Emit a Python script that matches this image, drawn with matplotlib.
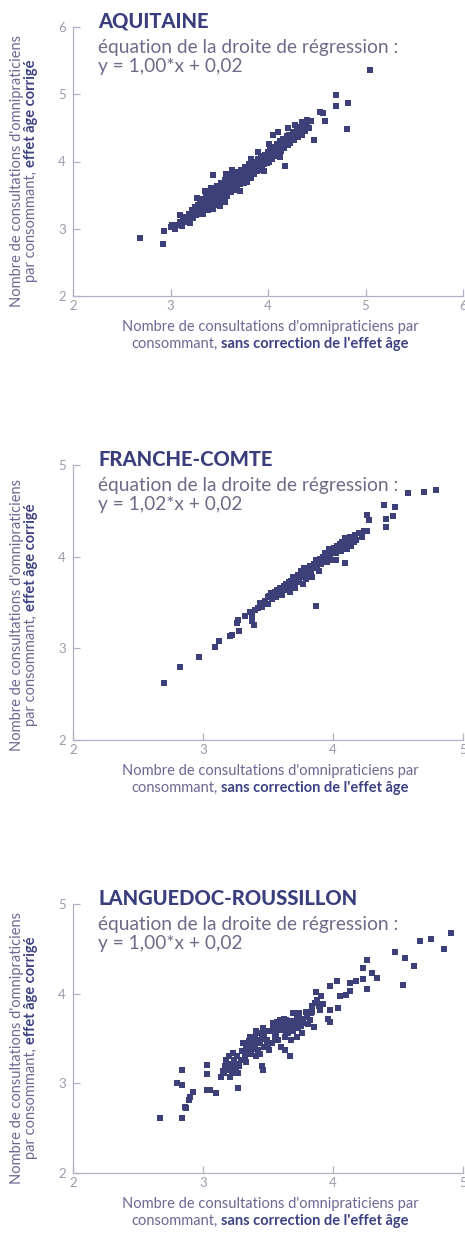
import matplotlib
matplotlib.use("Agg")
import matplotlib.pyplot as plt
import numpy as np

# ---- data: (uncorrected, age-corrected) consultations per consumer, one point per canton
aquitaine_pts = [
    (3.00, 3.02), (3.02, 3.06), (3.05, 3.00), (3.08, 3.05), (3.10, 3.10), (3.12, 3.04),
    (3.13, 3.12), (3.15, 3.18), (3.16, 3.10), (3.18, 3.15), (3.19, 3.22), (3.20, 3.08),
    (3.21, 3.20), (3.22, 3.28), (3.23, 3.16), (3.24, 3.24), (3.25, 3.32), (3.26, 3.20),
    (3.27, 3.27), (3.28, 3.36), (3.28, 3.22), (3.29, 3.30), (3.30, 3.40), (3.30, 3.25),
    (3.31, 3.34), (3.32, 3.28), (3.33, 3.44), (3.33, 3.22), (3.34, 3.36), (3.35, 3.30),
    (3.36, 3.42), (3.36, 3.50), (3.37, 3.35), (3.38, 3.46), (3.38, 3.28), (3.39, 3.40),
    (3.40, 3.55), (3.40, 3.33), (3.41, 3.48), (3.42, 3.38), (3.42, 3.60), (3.43, 3.45),
    (3.44, 3.52), (3.44, 3.30), (3.45, 3.42), (3.46, 3.58), (3.46, 3.36), (3.47, 3.50),
    (3.48, 3.44), (3.48, 3.64), (3.49, 3.55), (3.50, 3.40), (3.50, 3.48),
    (3.51, 3.60), (3.52, 3.52), (3.52, 3.68), (3.53, 3.45), (3.54, 3.58), (3.55, 3.64),
    (3.55, 3.50), (3.56, 3.72), (3.57, 3.56), (3.58, 3.62), (3.58, 3.48), (3.59, 3.68),
    (3.60, 3.58), (3.60, 3.76), (3.61, 3.64), (3.62, 3.54), (3.62, 3.70), (3.63, 3.80),
    (3.64, 3.62), (3.65, 3.68), (3.65, 3.74),
    (3.66, 3.58), (3.67, 3.78), (3.68, 3.70), (3.68, 3.64), (3.69, 3.84), (3.70, 3.74),
    (3.71, 3.66), (3.72, 3.80), (3.72, 3.88), (3.73, 3.72), (3.74, 3.78), (3.75, 3.68),
    (3.75, 3.86), (3.76, 3.92), (3.77, 3.76), (3.78, 3.82), (3.78, 3.70), (3.79, 3.88),
    (3.80, 3.78), (3.80, 3.96),
    (3.81, 3.84), (3.82, 3.90), (3.83, 3.76), (3.84, 3.94), (3.85, 3.86), (3.85, 4.00),
    (3.86, 3.82), (3.87, 3.92), (3.88, 3.98), (3.89, 3.86), (3.90, 4.04), (3.90, 3.94),
    (3.91, 3.88), (3.92, 4.00), (3.93, 4.08), (3.94, 3.94), (3.95, 4.02),
    (3.96, 3.96), (3.97, 4.10), (3.98, 4.04), (3.99, 3.98), (4.00, 4.14), (4.00, 4.06),
    (4.01, 4.00), (4.02, 4.18), (4.03, 4.10), (4.04, 4.04), (4.05, 4.14), (4.06, 4.22),
    (4.07, 4.08), (4.08, 4.16), (4.09, 4.26), (4.10, 4.12), (4.05, 4.40), (4.10, 4.44),
    (4.11, 4.20), (4.12, 4.30), (4.13, 4.16), (4.14, 4.24), (4.15, 4.34), (4.16, 4.20),
    (4.17, 3.93), (4.18, 4.28), (4.19, 4.38), (4.20, 4.24), (4.21, 4.32), (4.22, 4.40),
    (4.23, 4.28), (4.24, 4.36), (4.20, 4.50),
    (4.26, 4.44), (4.27, 4.32), (4.28, 4.40), (4.30, 4.48), (4.31, 4.36), (4.32, 4.44),
    (4.34, 4.52), (4.35, 4.40), (4.36, 4.56), (4.38, 4.46), (4.39, 4.52), (4.40, 4.58),
    (4.42, 4.50), (4.44, 4.60), (4.28, 4.55), (4.35, 4.58), (4.40, 4.62),
    (3.27, 3.46), (3.35, 3.56), (3.56, 3.40), (3.63, 3.88), (3.71, 3.56), (3.83, 4.04),
    (3.96, 3.86), (4.01, 4.26), (4.12, 4.06), (3.57, 3.82), (3.90, 4.14), (3.10, 3.20),
    (2.69, 2.86), (2.92, 2.78), (2.93, 2.97), (3.44, 3.80), (3.51, 3.34), (4.47, 4.32),
    (4.53, 4.74), (4.56, 4.72), (4.58, 4.60), (4.70, 4.99), (4.70, 4.82), (4.82, 4.87),
    (4.81, 4.49), (5.05, 5.36),
]

franche_comte_pts = [
    (2.70, 2.62), (2.82, 2.80), (2.97, 2.91), (3.09, 3.02), (3.12, 3.08), (3.21, 3.13),
    (3.22, 3.15), (3.28, 3.19), (3.26, 3.28), (3.27, 3.31), (3.32, 3.35), (3.38, 3.30),
    (3.39, 3.26), (3.45, 3.45), (3.46, 3.50), (3.47, 3.48), (3.51, 3.57),
    (3.36, 3.40), (3.38, 3.36), (3.40, 3.42), (3.42, 3.44), (3.44, 3.50), (3.45, 3.46),
    (3.48, 3.52), (3.50, 3.56), (3.50, 3.48), (3.52, 3.60), (3.53, 3.54),
    (3.55, 3.62), (3.56, 3.56), (3.57, 3.64), (3.58, 3.60), (3.59, 3.66), (3.60, 3.62),
    (3.61, 3.58), (3.62, 3.68), (3.63, 3.64), (3.64, 3.70), (3.65, 3.66), (3.66, 3.72),
    (3.67, 3.62), (3.68, 3.74), (3.68, 3.68), (3.69, 3.78), (3.70, 3.72), (3.71, 3.66),
    (3.72, 3.76), (3.73, 3.80), (3.74, 3.72), (3.75, 3.84), (3.76, 3.78), (3.77, 3.70),
    (3.78, 3.82), (3.78, 3.88), (3.79, 3.76), (3.80, 3.86), (3.81, 3.80), (3.82, 3.90),
    (3.83, 3.84), (3.84, 3.78), (3.85, 3.92), (3.86, 3.88), (3.87, 3.96), (3.88, 3.90),
    (3.89, 3.84), (3.90, 3.98), (3.91, 3.92), (3.92, 4.00), (3.93, 3.96), (3.94, 4.04),
    (3.95, 3.94), (3.96, 4.02), (3.97, 4.08), (3.98, 4.00), (3.99, 4.06), (4.00, 3.96),
    (4.01, 4.10), (4.02, 4.04), (4.03, 4.12), (4.04, 4.08), (4.05, 4.14), (4.06, 4.06),
    (4.07, 4.16), (4.08, 4.10), (4.09, 4.20), (4.10, 4.14), (4.11, 4.08), (4.12, 4.18),
    (4.13, 4.22), (4.14, 4.12), (4.15, 4.20), (4.16, 4.16), (4.17, 4.24), (4.18, 4.18),
    (4.20, 4.26), (4.22, 4.22), (4.24, 4.28), (4.02, 3.96), (4.09, 3.93),
    (3.87, 3.46), (4.26, 4.45), (4.28, 4.40), (4.26, 4.28), (4.39, 4.56), (4.48, 4.54),
    (4.41, 4.41), (4.46, 4.44), (4.41, 4.32), (4.58, 4.70), (4.70, 4.71), (4.79, 4.73),
]

languedoc_pts = [
    (2.67, 2.61), (2.84, 2.61), (2.84, 3.15), (2.80, 3.00), (2.84, 2.98), (2.92, 2.90),
    (2.90, 2.85), (2.89, 2.81), (2.86, 2.74), (2.87, 2.72), (3.03, 3.21), (3.03, 3.10),
    (3.03, 2.93), (3.05, 2.93), (3.10, 2.89), (3.27, 2.95),
    (3.14, 3.07), (3.16, 3.11), (3.17, 3.19), (3.18, 3.26), (3.21, 3.15), (3.21, 3.07),
    (3.23, 3.22), (3.23, 3.34), (3.26, 3.30), (3.27, 3.11), (3.28, 3.19), (3.19, 3.22),
    (3.25, 3.16), (3.15, 3.14), (3.29, 3.26), (3.20, 3.30), (3.18, 3.18), (3.24, 3.26),
    (3.26, 3.22), (3.22, 3.12),
    (3.31, 3.45), (3.34, 3.37), (3.36, 3.52), (3.39, 3.41), (3.41, 3.30), (3.44, 3.45),
    (3.45, 3.19), (3.46, 3.15), (3.49, 3.48), (3.51, 3.37), (3.32, 3.30), (3.35, 3.47),
    (3.40, 3.52), (3.42, 3.37), (3.30, 3.36), (3.33, 3.24), (3.37, 3.33), (3.38, 3.46),
    (3.43, 3.56), (3.47, 3.40), (3.48, 3.58), (3.50, 3.44), (3.36, 3.40), (3.44, 3.33),
    (3.33, 3.40), (3.35, 3.34), (3.38, 3.38), (3.40, 3.44), (3.42, 3.48), (3.45, 3.50),
    (3.47, 3.52), (3.49, 3.42), (3.41, 3.58), (3.46, 3.62),
    (3.54, 3.67), (3.57, 3.60), (3.58, 3.48), (3.59, 3.71), (3.60, 3.41), (3.62, 3.63),
    (3.63, 3.37), (3.64, 3.71), (3.65, 3.56), (3.67, 3.30), (3.69, 3.78), (3.70, 3.63),
    (3.72, 3.52), (3.73, 3.71), (3.74, 3.78), (3.76, 3.56), (3.77, 3.67), (3.53, 3.45),
    (3.55, 3.52), (3.68, 3.48), (3.56, 3.55), (3.61, 3.66), (3.66, 3.62), (3.71, 3.68),
    (3.75, 3.64), (3.52, 3.58), (3.58, 3.64), (3.63, 3.52), (3.69, 3.58), (3.72, 3.74),
    (3.54, 3.62), (3.57, 3.68), (3.60, 3.60), (3.62, 3.72), (3.65, 3.66), (3.67, 3.70),
    (3.70, 3.70), (3.73, 3.62), (3.76, 3.72), (3.64, 3.58),
    (3.80, 3.74), (3.82, 3.71), (3.84, 3.86), (3.85, 3.63), (3.87, 4.02), (3.88, 3.93),
    (3.90, 3.82), (3.91, 3.97), (3.92, 3.89), (3.96, 3.72), (3.98, 3.68), (3.98, 3.82),
    (4.04, 3.84), (3.79, 3.80), (3.83, 3.78), (3.86, 3.90), (3.81, 3.66), (3.84, 3.80),
    (3.89, 3.86),
    (3.98, 4.09), (4.03, 4.14), (4.05, 3.97), (4.10, 3.99), (4.13, 4.03), (4.13, 4.12),
    (4.18, 4.14), (4.23, 4.16), (4.26, 4.05), (4.26, 4.38), (4.23, 4.29), (4.30, 4.23),
    (4.34, 4.18),
    (4.48, 4.46), (4.55, 4.40), (4.62, 4.31), (4.54, 4.10), (4.67, 4.59), (4.75, 4.61),
    (4.85, 4.50), (4.91, 4.68),
]

region_names = ["AQUITAINE", "FRANCHE-COMTE", "LANGUEDOC-ROUSSILLON"]
equations = ["y = 1,00*x + 0,02", "y = 1,02*x + 0,02", "y = 1,00*x + 0,02"]
axis_max = [6, 5, 5]
subtitle = "équation de la droite de régression :"
xlabel_line1 = "Nombre de consultations d'omnipraticiens par"
xlabel_line2 = [("consommant, ", "normal"), ("sans correction de l'effet âge", "bold")]
ylabel_line1 = "Nombre de consultations d'omnipraticiens"
ylabel_line2 = [("par consommant, ", "normal"), ("effet âge corrigé", "bold")]

# ---- style
W, H = 465, 1234
FONT = "Lato"
C_TITLE = "#3a3e7c"
C_SUB = "#6e6b88"
C_LABEL = "#6c6893"
C_LABEL_BOLD = "#3d4184"
C_TICK = "#9e9aae"
C_SPINE = "#b4aec6"
C_MARK = "#3c3f78"

fig = plt.figure(figsize=(W / 100, H / 100), dpi=100, facecolor="white")
renderer = fig.canvas.get_renderer()


def fx(px):
    return px / W


def fy(py):
    return 1 - py / H


def text_width(s, **kw):
    t = fig.text(0, 0, s, **kw)
    w = t.get_window_extent(renderer).width
    t.remove()
    return w


def mixed_line(cx, cy, parts, size, rotation=0):
    """Draw a line made of regular/bold runs, centred on (cx, cy) in pixels (cy = baseline)."""
    widths = []
    for s, wgt in parts:
        core = s.rstrip(" ")
        w = text_width(core, family=FONT, fontsize=size, fontweight=wgt)
        if core != s:
            sp = (text_width("x x", family=FONT, fontsize=size, fontweight=wgt)
                  - text_width("xx", family=FONT, fontsize=size, fontweight=wgt))
            w += sp * (len(s) - len(core))
        widths.append(w)
    total = sum(widths)
    pos = -total / 2
    for (s, wgt), w in zip(parts, widths):
        col = C_LABEL_BOLD if wgt == "bold" else C_LABEL
        if rotation == 0:
            fig.text(fx(cx + pos), fy(cy), s.rstrip(" "), family=FONT, fontsize=size,
                     fontweight=wgt, color=col, ha="left", va="baseline")
        else:
            fig.text(fx(cx), fy(cy - pos), s.rstrip(" "), family=FONT, fontsize=size,
                     fontweight=wgt, color=col, ha="left", va="baseline",
                     rotation=90, rotation_mode="anchor")
        pos += w


panels = [
    (aquitaine_pts, 27, 296),
    (franche_comte_pts, 465, 740),
    (languedoc_pts, 904, 1173),
]
LEFT, RIGHT = 73, 463

for i, (pts, top, bottom) in enumerate(panels):
    arr = np.array(pts)
    ax = fig.add_axes([fx(LEFT), fy(bottom), fx(RIGHT) - fx(LEFT), (bottom - top) / H])
    ax.plot(arr[:, 0], arr[:, 1], ls="none", marker="s", ms=3.8, mew=0,
            color=C_MARK, clip_on=False)
    vmax = axis_max[i]
    ax.set_xlim(2, vmax)
    ax.set_ylim(2, vmax)
    ticks = list(range(2, vmax + 1))
    ax.set_xticks(ticks)
    ax.set_yticks(ticks)
    ax.set_xticklabels([str(t) for t in ticks])
    ax.set_yticklabels([str(t) for t in ticks])
    for side in ("top", "right"):
        ax.spines[side].set_visible(False)
    for side in ("left", "bottom"):
        ax.spines[side].set_color(C_SPINE)
        ax.spines[side].set_linewidth(0.9)
    ax.tick_params(direction="in", length=5, width=0.9, color=C_SPINE,
                   labelcolor=C_TICK, labelsize=9.5)
    ax.tick_params(axis="x", pad=3)
    ax.tick_params(axis="y", pad=5)
    for lab in ax.get_xticklabels() + ax.get_yticklabels():
        lab.set_family(FONT)
    ax.patch.set_alpha(0)

    # heading block
    fig.text(fx(98), fy(top + 1), region_names[i], family=FONT, fontsize=14.5,
             fontweight="black", color=C_TITLE, ha="left", va="baseline")
    fig.text(fx(98), fy(top + 26), subtitle, family=FONT, fontsize=13.8,
             color=C_SUB, ha="left", va="baseline")
    fig.text(fx(98), fy(top + 45), equations[i], family=FONT, fontsize=13.8,
             color=C_SUB, ha="left", va="baseline")

    # x-axis label (two centred lines)
    mixed_line(270, bottom + 35, [(xlabel_line1, "normal")], 10.5)
    mixed_line(270, bottom + 52, xlabel_line2, 10.5)

    # y-axis label (two rotated lines)
    yc = bottom - 125
    mixed_line(21, yc, [(ylabel_line1, "normal")], 10.5, rotation=90)
    mixed_line(35, yc, ylabel_line2, 10.5, rotation=90)

fig.savefig("out.png", dpi=100, facecolor="white")
